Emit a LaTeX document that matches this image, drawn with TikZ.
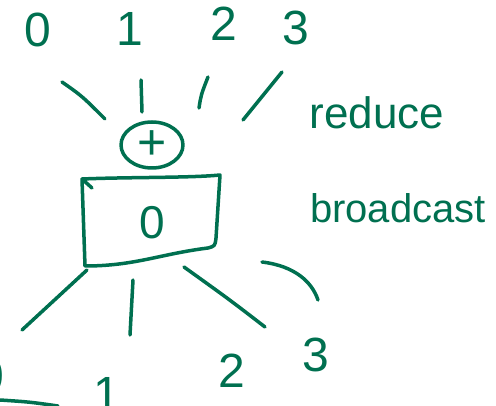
\documentclass[tikz,border=0pt]{standalone}
\usepackage{fontspec}
\setmainfont{Liberation Sans}
\usetikzlibrary{shapes.geometric}
\definecolor{ink}{RGB}{0,112,80}
\begin{document}
\begin{tikzpicture}[x=1pt,y=-1pt,
  stroke/.style={draw=ink,line width=3.5pt,line cap=round,line join=round},
  digit/.style={text=ink,font=\fontsize{48}{48}\selectfont,inner sep=0pt},
  word/.style={text=ink,inner sep=0pt}]
\useasboundingbox (0,0) rectangle (496,406);
\clip (0,0) rectangle (496,406);

% top ranks
\node[digit] (t0) at (38,30) {0};
\node[digit] (t1) at (130,29) {1};
\node[digit] (t2) at (224,24) {2};
\node[digit] (t3) at (296,28) {3};

% reduce spokes
\coordinate (ra0) at (62,82);  \coordinate (rb0) at (105,119);
\coordinate (ra1) at (141,80); \coordinate (rb1) at (142,112);
\coordinate (ra2) at (208,77); \coordinate (rb2) at (199,108);
\coordinate (ra3) at (282,72); \coordinate (rb3) at (243,120);
\draw[stroke] (ra0) .. controls (82,96) .. (rb0);
\draw[stroke] (ra1) -- (rb1);
\draw[stroke] (ra2) .. controls (201,95) .. (rb2);
\draw[stroke] (ra3) -- (rb3);

% sum node
\node[stroke,ellipse,minimum width=62pt,minimum height=46pt,inner sep=0pt,
      text=ink,font=\fontsize{50}{50}\selectfont] (sum) at (152,145) {+};

% root box
\coordinate (btick) at (92,188);
\coordinate (btl) at (82,179);
\coordinate (btr) at (220,175);
\coordinate (bbr) at (208,248);
\coordinate (bbl) at (85,266);
\draw[stroke] (btick) -- (btl) .. controls (130,177) and (190,178) .. (btr)
  -- (216,238) .. controls (215,246) .. (bbr)
  .. controls (160,254) and (135,266) .. (bbl) -- (btl);
\node[digit,font=\fontsize{46}{46}\selectfont] (root) at (152,223) {0};

% labels
\node[word,font=\fontsize{44}{44}\selectfont] (lred) at (377,113) {reduce};
\node[word,font=\fontsize{40}{40}\selectfont] (lbc) at (398,208) {broadcast};

% broadcast spokes
\coordinate (sa0) at (87,270);  \coordinate (sb0) at (22,330);
\coordinate (sa1) at (133,280); \coordinate (sb1) at (130,335);
\coordinate (sa2) at (184,267); \coordinate (sb2) at (265,327);
\coordinate (sa3) at (262,262); \coordinate (sb3) at (318,300);
\draw[stroke] (sa0) -- (sb0);
\draw[stroke] (sa1) -- (sb1);
\draw[stroke] (sa2) .. controls (230,300) .. (sb2);
\draw[stroke] (sa3) .. controls (295,266) and (312,282) .. (sb3);

% bottom ranks (cut by the picture's edge, as in the sketch)
\node[digit] (u0) at (-9,376) {0};
\node[digit] (u1) at (107,394) {1};
\node[digit] (u2) at (232,371) {2};
\node[digit] (u3) at (316,355) {3};

% stray stroke at the bottom edge
\coordinate (la) at (0,400);
\coordinate (lb) at (58,406);
\draw[stroke] (la) .. controls (30,402) .. (lb);
\end{tikzpicture}
\end{document}
